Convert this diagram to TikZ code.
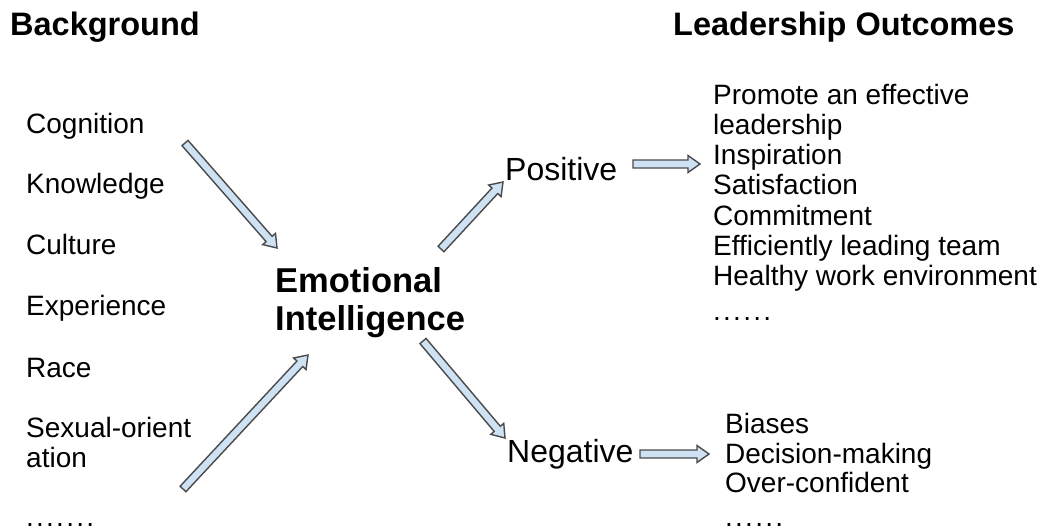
\documentclass[tikz,border=0pt]{standalone}
\usepackage{fontspec}
\setmainfont{Liberation Sans}
\usetikzlibrary{calc}
\definecolor{arrowfill}{HTML}{CFE2F3}
\definecolor{arrowline}{HTML}{4A4A4A}
\begin{document}
\begin{tikzpicture}[x=1pt,y=-1pt,
  txt/.style={anchor=base west,inner sep=0pt,font=\fontsize{28}{30}\selectfont},
  head/.style={anchor=base west,inner sep=0pt,font=\fontsize{32.5}{36}\selectfont\bfseries},
  big/.style={anchor=base west,inner sep=0pt,font=\fontsize{32}{36}\selectfont},
  ei/.style={anchor=base west,inner sep=0pt,font=\fontsize{34.5}{38}\selectfont\bfseries},
  dots/.style={txt,font=\fontsize{28}{30}\selectfont\addfontfeatures{LetterSpace=8}},
  % outlined block arrow from the start coordinate to the target coordinate
  blockarrow/.style={fill=arrowfill,draw=arrowline,line width=1.4pt,line join=miter,
    to path={
      ($(\tikztostart)!4pt!90:(\tikztotarget)$)
      -- ($(\tikztotarget)!12pt!(\tikztostart)!4pt!90:(\tikztotarget)$)
      -- ($(\tikztotarget)!12pt!(\tikztostart)!8.5pt!90:(\tikztotarget)$)
      -- (\tikztotarget)
      -- ($(\tikztotarget)!12pt!(\tikztostart)!8.5pt!-90:(\tikztotarget)$)
      -- ($(\tikztotarget)!12pt!(\tikztostart)!4pt!-90:(\tikztotarget)$)
      -- ($(\tikztostart)!4pt!-90:(\tikztotarget)$)
      -- cycle}}]
\useasboundingbox (0,0) rectangle (1046,531);

% headings
\node[head] (bg) at (10,35) {Background};
\node[head] (lo) at (673,35) {Leadership Outcomes};

% background factors
\node[txt] (cog) at (26,133) {Cognition};
\node[txt] (know) at (26,193) {Knowledge};
\node[txt] (cult) at (26,254) {Culture};
\node[txt] (exp) at (26,315) {Experience};
\node[txt] (race) at (26,377) {Race};
\node[txt] (sex1) at (26,437) {Sexual-orient};
\node[txt] (sex2) at (26,467) {ation};
\node[dots] (bgdots) at (26,526) {.......};

% central concept
\node[ei] (ei1) at (275,292) {Emotional};
\node[ei] (ei2) at (275,330) {Intelligence};

% outcome branches
\node[big] (pos) at (505,180) {Positive};
\node[big] (neg) at (507,462) {Negative};

% positive outcomes
\node[txt] (p1) at (713,104) {Promote an effective};
\node[txt] (p2) at (713,134) {leadership};
\node[txt] (p3) at (713,164) {Inspiration};
\node[txt] (p4) at (713,194) {Satisfaction};
\node[txt] (p5) at (713,225) {Commitment};
\node[txt] (p6) at (713,255) {Efficiently leading team};
\node[txt] (p7) at (713,285) {Healthy work environment};
\node[dots] (pdots) at (713,320) {......};

% negative outcomes
\node[txt] (n1) at (725,433) {Biases};
\node[txt] (n2) at (725,463) {Decision-making};
\node[txt] (n3) at (725,492) {Over-confident};
\node[dots] (ndots) at (725,526) {......};

% arrow end points
\coordinate (inTopS) at (185,143);
\coordinate (inTopE) at (277,248);
\coordinate (inBotS) at (183,489);
\coordinate (inBotE) at (308,355);
\coordinate (posS) at (441,249);
\coordinate (posE) at (503,182);
\coordinate (negS) at (423,341);
\coordinate (negE) at (505,438);
\coordinate (posOutS) at (633,164);
\coordinate (posOutE) at (700,164);
\coordinate (negOutS) at (640,454);
\coordinate (negOutE) at (709,454);

\path[blockarrow] (inTopS) to (inTopE);
\path[blockarrow] (inBotS) to (inBotE);
\path[blockarrow] (posS) to (posE);
\path[blockarrow] (negS) to (negE);
\path[blockarrow] (posOutS) to (posOutE);
\path[blockarrow] (negOutS) to (negOutE);
\end{tikzpicture}
\end{document}
